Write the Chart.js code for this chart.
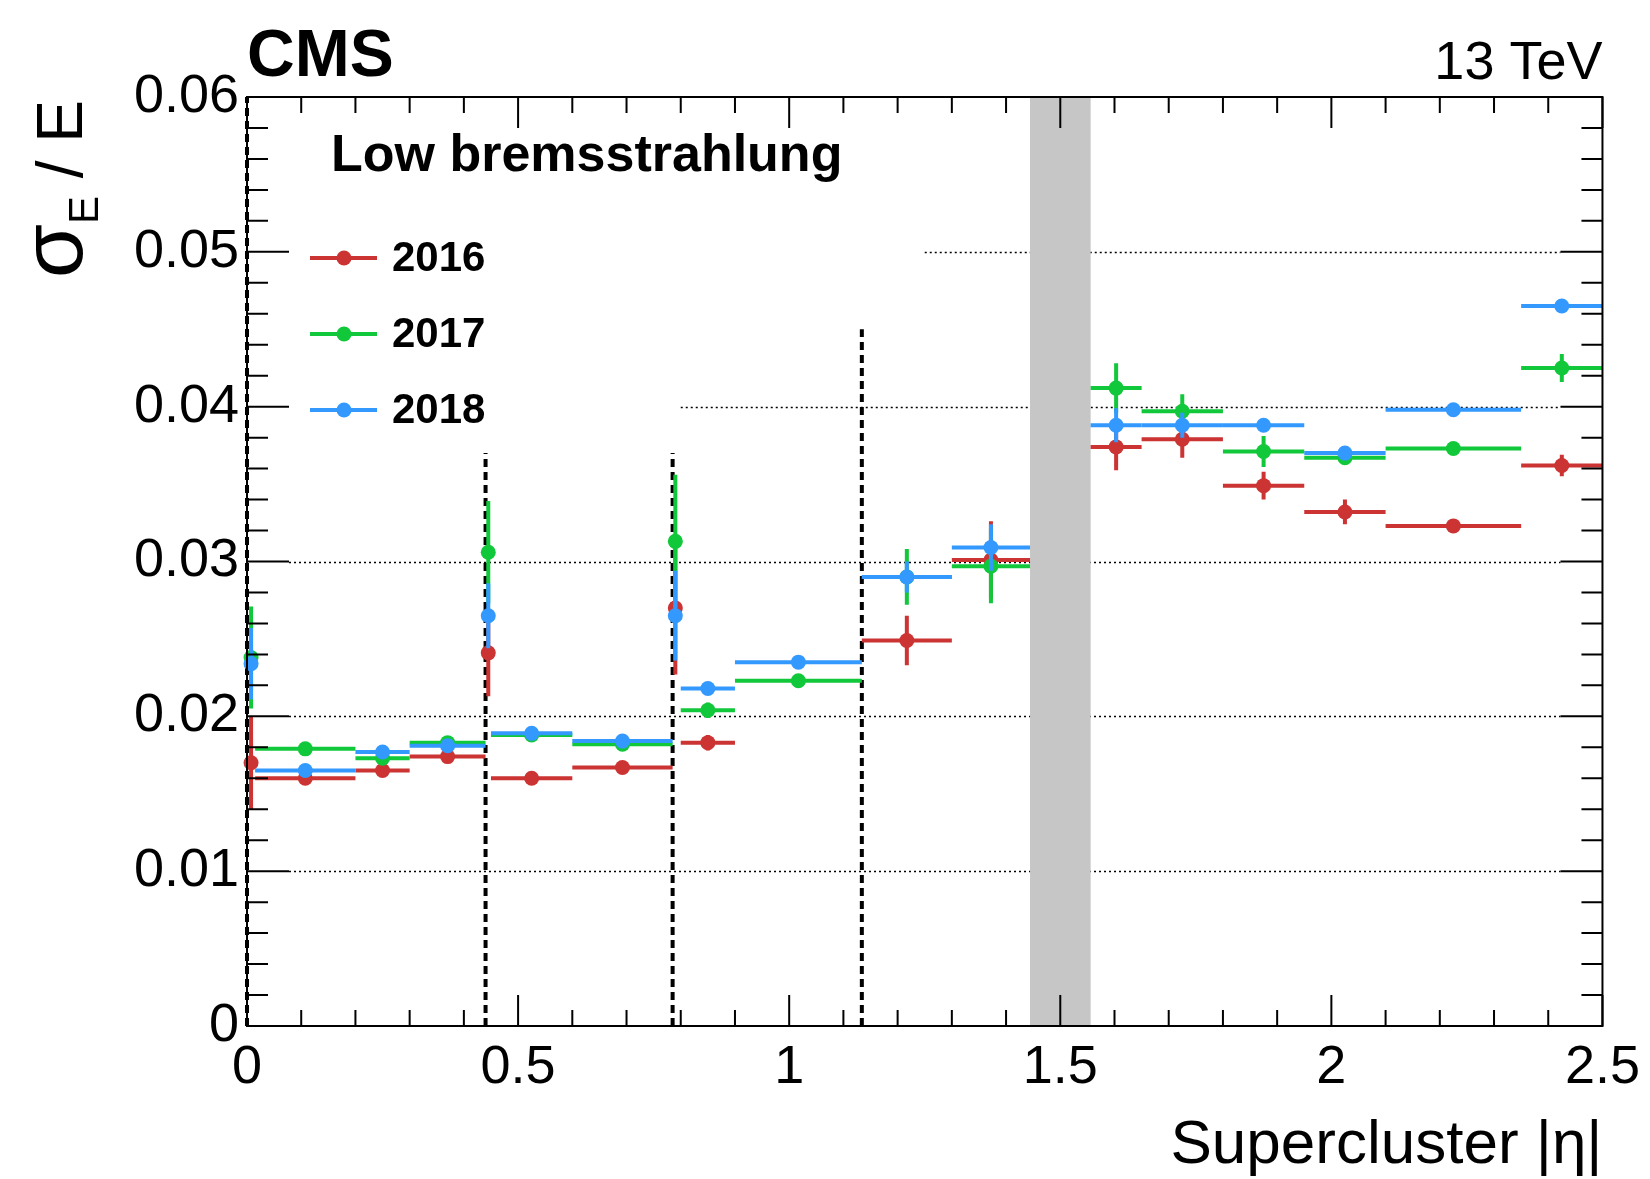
<!DOCTYPE html>
<html>
<head>
<meta charset="utf-8">
<script src="https://cdn.jsdelivr.net/npm/chart.js@4.4.1/dist/chart.umd.min.js"></script>
<style>
  html, body { margin: 0; padding: 0; background: #fff; }
  #wrap { width: 1650px; height: 1179px; }
</style>
</head>
<body>
<div id="wrap"><canvas id="resolution" width="1650" height="1179"></canvas></div>
<script>
// supercluster |eta| bins
const etaLow  = [0.000, 0.015, 0.200, 0.300, 0.440, 0.450, 0.600, 0.785, 0.800, 0.900, 1.134, 1.300, 1.556, 1.650, 1.800, 1.950, 2.100, 2.350];
const etaHigh = [0.015, 0.200, 0.300, 0.440, 0.450, 0.600, 0.785, 0.795, 0.900, 1.134, 1.300, 1.4442, 1.650, 1.800, 1.950, 2.100, 2.350, 2.500];

// sigma_E / E per bin and its uncertainty
const res2016 = [0.0170, 0.0160, 0.0165, 0.0174, 0.0241, 0.0160, 0.0167, 0.0270, 0.0183, null,   0.0249, 0.0301, 0.0374, 0.0379, 0.0349, 0.0332, 0.0323, 0.0362];
const err2016 = [0.0030, 0.0003, 0.0004, 0.0003, 0.0028, 0.0003, 0.0003, 0.0043, 0.0005, null,   0.0016, 0.0025, 0.0015, 0.0012, 0.0009, 0.0008, 0.0004, 0.0007];
const res2017 = [0.0238, 0.0179, 0.0173, 0.0183, 0.0306, 0.0188, 0.0182, 0.0313, 0.0204, 0.0223, 0.0290, 0.0297, 0.0412, 0.0397, 0.0371, 0.0367, 0.0373, 0.0425];
const err2017 = [0.0033, 0.0003, 0.0004, 0.0003, 0.0033, 0.0003, 0.0003, 0.0043, 0.0005, 0.0004, 0.0018, 0.0024, 0.0016, 0.0011, 0.0010, 0.0004, 0.0004, 0.0009];
const res2018 = [0.0234, 0.0165, 0.0177, 0.0181, 0.0265, 0.0189, 0.0184, 0.0265, 0.0218, 0.0235, 0.0290, 0.0309, 0.0388, 0.0388, 0.0388, 0.0370, 0.0398, 0.0465];
const err2018 = [0.0023, 0.0002, 0.0003, 0.0003, 0.0021, 0.0003, 0.0003, 0.0029, 0.0004, 0.0003, 0.0010, 0.0015, 0.0011, 0.0008, 0.0004, 0.0003, 0.0003, 0.0003];

const years = ['2016', '2017', '2018'];
const colors = ['#cc3333', '#11c83a', '#3399ff'];

const xTickValues = [0, 0.5, 1, 1.5, 2, 2.5];
const xTickLabels = ['0', '0.5', '1', '1.5', '2', '2.5'];
const yTickValues = [0, 0.01, 0.02, 0.03, 0.04, 0.05, 0.06];
const yTickLabels = ['0', '0.01', '0.02', '0.03', '0.04', '0.05', '0.06'];

// ECAL module boundaries and barrel/endcap crack
const moduleEdges = [0, 0.44, 0.785, 1.134];
const moduleTops  = [0.06, 0.037, 0.037, 0.045];
const crackEta = [1.4442, 1.556];

// dotted reference levels, and where each one starts
const gridLevels = [0.01, 0.02, 0.03, 0.04, 0.05];
const gridFrom   = [0, 0, 0, 0.8, 1.25];

const FONT = '"Liberation Sans", Arial, Helvetica, sans-serif';
const MARKER = 7.5;
const BAR_WIDTH = 4;

function points(values, errors) {
  const out = [];
  etaLow.forEach((lo, i) => {
    if (values[i] == null) return;
    out.push({ x: (lo + etaHigh[i]) / 2, y: values[i], lo: lo, hi: etaHigh[i], err: errors[i] });
  });
  return out;
}

const allValues = [res2016, res2017, res2018];
const allErrors = [err2016, err2017, err2018];

const datasets = years.map((yr, k) => ({
  label: yr,
  data: points(allValues[k], allErrors[k]),
  showLine: false,
  pointRadius: MARKER,
  pointBorderWidth: 0,
  pointBackgroundColor: colors[k],
  borderColor: colors[k],
  clip: false,
  order: 3 - k
}));

const rootStyle = {
  id: 'rootStyle',
  beforeDatasetsDraw(chart) {
    const { ctx, chartArea: a, scales: { x, y } } = chart;
    ctx.save();
    // dotted levels
    ctx.strokeStyle = '#000';
    ctx.lineWidth = 1.5;
    ctx.setLineDash([2, 3]);
    gridLevels.forEach((v, i) => {
      const yy = Math.round(y.getPixelForValue(v)) + 0.5;
      ctx.beginPath();
      ctx.moveTo(Math.max(x.getPixelForValue(gridFrom[i]), a.left + 42), yy);
      ctx.lineTo(a.right - 42, yy);
      ctx.stroke();
    });
    // crack
    const c0 = x.getPixelForValue(crackEta[0]);
    const c1 = x.getPixelForValue(crackEta[1]);
    ctx.fillStyle = '#c6c6c6';
    ctx.fillRect(c0, a.top, c1 - c0, a.bottom - a.top);
    // module boundaries
    ctx.lineWidth = 4;
    ctx.setLineDash([8, 5]);
    moduleEdges.forEach((e, i) => {
      const xx = x.getPixelForValue(e);
      ctx.beginPath();
      ctx.moveTo(xx, a.bottom);
      ctx.lineTo(xx, y.getPixelForValue(moduleTops[i]));
      ctx.stroke();
    });
    ctx.restore();
  },
  beforeDatasetDraw(chart, args) {
    const { ctx, scales: { x, y } } = chart;
    const ds = chart.data.datasets[args.index];
    ctx.save();
    ctx.strokeStyle = ds.borderColor;
    ctx.lineWidth = BAR_WIDTH;
    ctx.lineCap = 'butt';
    ds.data.forEach(p => {
      const yy = y.getPixelForValue(p.y);
      const xx = x.getPixelForValue(p.x);
      ctx.beginPath();
      ctx.moveTo(x.getPixelForValue(p.lo), yy);
      ctx.lineTo(x.getPixelForValue(p.hi), yy);
      ctx.moveTo(xx, y.getPixelForValue(p.y - p.err));
      ctx.lineTo(xx, y.getPixelForValue(p.y + p.err));
      ctx.stroke();
    });
    ctx.restore();
  },
  afterDatasetsDraw(chart) {
    const { ctx, chartArea: a, scales: { x, y } } = chart;
    ctx.save();
    ctx.strokeStyle = '#000';
    ctx.lineWidth = 2;
    ctx.strokeRect(a.left, a.top, a.right - a.left, a.bottom - a.top);
    ctx.beginPath();
    for (let k = 0; k <= 25; k++) {
      const xx = x.getPixelForValue(k / 10);
      const len = k % 5 === 0 ? 31 : 16;
      ctx.moveTo(xx, a.bottom); ctx.lineTo(xx, a.bottom - len);
      ctx.moveTo(xx, a.top); ctx.lineTo(xx, a.top + len);
    }
    for (let k = 0; k <= 30; k++) {
      const yy = y.getPixelForValue(k * 0.002);
      const len = k % 5 === 0 ? 42 : 21;
      ctx.moveTo(a.left, yy); ctx.lineTo(a.left + len, yy);
      ctx.moveTo(a.right, yy); ctx.lineTo(a.right - len, yy);
    }
    ctx.stroke();
    ctx.restore();
  },
  afterDraw(chart) {
    const { ctx, chartArea: a } = chart;
    ctx.save();
    ctx.fillStyle = '#000';
    ctx.textBaseline = 'alphabetic';

    ctx.font = 'bold 66px ' + FONT;
    ctx.textAlign = 'left';
    ctx.fillText('CMS', a.left, 76);

    ctx.font = '54px ' + FONT;
    ctx.textAlign = 'right';
    ctx.fillText('13 TeV', a.right, 79);

    ctx.font = 'bold 52px ' + FONT;
    ctx.textAlign = 'left';
    ctx.fillText('Low bremsstrahlung', 331, 171);

    // legend
    years.forEach((yr, k) => {
      const ly = 258 + k * 76;
      ctx.strokeStyle = colors[k];
      ctx.lineWidth = BAR_WIDTH;
      ctx.beginPath();
      ctx.moveTo(310, ly); ctx.lineTo(377, ly);
      ctx.stroke();
      ctx.fillStyle = colors[k];
      ctx.beginPath();
      ctx.arc(344, ly, MARKER, 0, Math.PI * 2);
      ctx.fill();
      ctx.fillStyle = '#000';
      ctx.font = 'bold 42px ' + FONT;
      ctx.textAlign = 'left';
      ctx.textBaseline = 'middle';
      ctx.fillText(yr, 392, ly + 1);
    });

    // axis titles
    ctx.textBaseline = 'alphabetic';
    ctx.font = '62px ' + FONT;
    ctx.textAlign = 'right';
    ctx.fillText('Supercluster |\u03b7|', a.right, 1163);

    ctx.translate(82, 100);
    ctx.rotate(-Math.PI / 2);
    ctx.textAlign = 'left';
    const parts = [['\u03c3', 88, 0], ['E', 42, 16], [' / E', 64, 0]];
    let total = 0;
    parts.forEach(p => { ctx.font = p[1] + 'px ' + FONT; total += ctx.measureText(p[0]).width; });
    let cx = -total;
    parts.forEach(p => {
      ctx.font = p[1] + 'px ' + FONT;
      ctx.fillText(p[0], cx, p[2]);
      cx += ctx.measureText(p[0]).width;
    });
    ctx.restore();
  }
};

new Chart(document.getElementById('resolution'), {
  type: 'scatter',
  data: { datasets: datasets },
  options: {
    responsive: false,
    animation: false,
    events: [],
    layout: { padding: { left: 0, right: 45, top: 97, bottom: 0 } },
    plugins: { legend: { display: false }, tooltip: { enabled: false } },
    scales: {
      x: {
        type: 'linear', min: 0, max: 2.5,
        grid: { display: false, drawTicks: false },
        border: { display: false },
        afterBuildTicks: s => { s.ticks = xTickValues.map(v => ({ value: v })); },
        afterFit: s => { s.height = 153; },
        ticks: {
          maxRotation: 0, padding: 10, color: '#000',
          font: { family: FONT, size: 54 },
          callback: (v, i) => xTickLabels[i]
        }
      },
      y: {
        type: 'linear', min: 0, max: 0.06,
        grid: { display: false, drawTicks: false },
        border: { display: false },
        afterBuildTicks: s => { s.ticks = yTickValues.map(v => ({ value: v })); },
        afterFit: s => { s.width = 247; },
        ticks: {
          padding: 8, color: '#000',
          font: { family: FONT, size: 54 },
          callback: (v, i) => yTickLabels[i]
        }
      }
    }
  },
  plugins: [rootStyle]
});
</script>
</body>
</html>
